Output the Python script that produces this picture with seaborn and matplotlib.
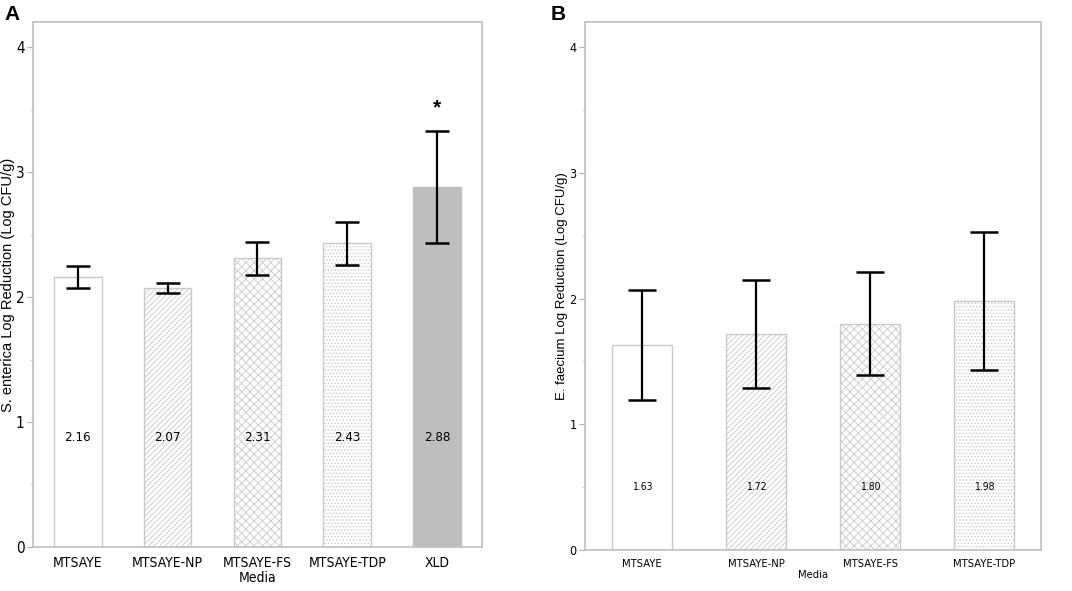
import numpy as np
import seaborn as sns
import matplotlib.pyplot as plt
from matplotlib.ticker import MultipleLocator

# Данные панели A (S. enterica)
media_a = ['MTSAYE', 'MTSAYE-NP', 'MTSAYE-FS', 'MTSAYE-TDP', 'XLD']
mean_a = [2.16, 2.07, 2.31, 2.43, 2.88]
err_a = [0.09, 0.04, 0.13, 0.17, 0.45]
labels_a = ['2.16', '2.07', '2.31', '2.43', '2.88']

# Данные панели B (E. faecium)
media_b = ['MTSAYE', 'MTSAYE-NP', 'MTSAYE-FS', 'MTSAYE-TDP']
mean_b = [1.63, 1.72, 1.80, 1.98]
err_b = [0.44, 0.43, 0.41, 0.55]
labels_b = ['1.63', '1.72', '1.80', '1.98']

hatches = ['', '//////', 'xxxx', '.....', '']
fills = ['white', 'white', 'white', 'white', '#bebebe']

sns.set_style('white')
# узкий шрифт для подписей, как в оригинале
plt.rcParams['font.family'] = ['DejaVu Sans']
plt.rcParams['font.stretch'] = 'condensed'
plt.rcParams['hatch.linewidth'] = 0.6
for k in ['text.color', 'axes.labelcolor', 'xtick.labelcolor', 'ytick.labelcolor']:
    plt.rcParams[k] = 'black'
regular = ['Liberation Sans', 'DejaVu Sans']

fig = plt.figure(figsize=(10.72, 5.91), dpi=100)
ax_a = fig.add_axes([0.0308, 0.0745, 0.4188, 0.888])
ax_b = fig.add_axes([0.5457, 0.0694, 0.4254, 0.893])


def draw_panel(ax, media, mean, err, labels, ylabel, fs, ylab_fs, capsize,
               label_y, ylab_x):
    sns.barplot(x=media, y=mean, color='white', width=0.53,
                edgecolor='#c8c8c8', linewidth=1.0, errorbar=None, ax=ax)
    for i, p in enumerate(ax.patches):
        p.set_facecolor(fills[i])
        p.set_hatch(hatches[i])
        p.set_edgecolor('#bebebe' if fills[i] != 'white' else '#c8c8c8')
    pos = np.arange(len(media))
    ax.errorbar(pos, mean, yerr=err, fmt='none', ecolor='black',
                elinewidth=1.6, capsize=capsize, capthick=1.8, zorder=5)
    for x, t in zip(pos, labels):
        ax.text(x, label_y, t, ha='center', va='center', fontsize=fs - 0.5)
    ax.set_ylim(0, 4.2)
    ax.set_xlim(-0.5, len(media) - 0.5)
    ax.set_yticks([0, 1, 2, 3, 4])
    ax.yaxis.set_minor_locator(MultipleLocator(0.5))
    ax.tick_params(axis='y', which='major', left=True, length=4, width=0.8,
                   color='#b0b0b0', labelsize=fs + 1, pad=2)
    ax.tick_params(axis='y', which='minor', left=True, length=2, width=0.6,
                   color='#c8c8c8')
    ax.tick_params(axis='x', bottom=False, labelsize=fs, pad=3)
    ax.set_xlabel('Media', fontsize=fs, labelpad=1)
    ax.set_ylabel(ylabel, fontsize=ylab_fs, family=regular, stretch='normal')
    ax.yaxis.set_label_coords(ylab_x, 0.5)
    for s in ax.spines.values():
        s.set_color('#c0c0c0')
        s.set_linewidth(1.2)


draw_panel(ax_a, media_a, mean_a, err_a, labels_a,
           'S. enterica Log Reduction (Log CFU/g)', 10, 10.5, 8.3, 0.88, -0.040)
ax_a.text(4, 3.51, '*', ha='center', va='center', fontsize=15, fontweight='bold',
          family=regular)

draw_panel(ax_b, media_b, mean_b, err_b, labels_b,
           'E. faecium Log Reduction (Log CFU/g)', 8, 9.5, 10.4, 0.5, -0.037)

fig.text(0.004, 0.975, 'A', fontsize=15, fontweight='bold', va='center',
         family=regular, stretch='normal')
fig.text(0.514, 0.975, 'B', fontsize=15, fontweight='bold', va='center',
         family=regular, stretch='normal')

fig.savefig('out.png', dpi=100)
